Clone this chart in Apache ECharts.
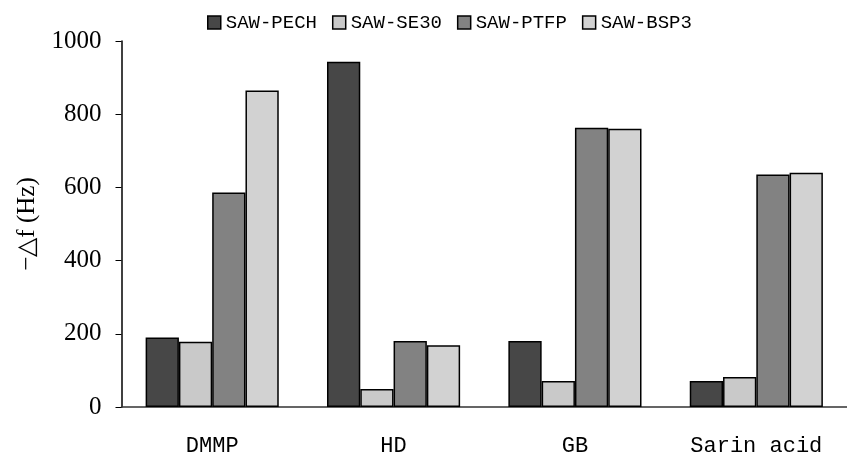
<!DOCTYPE html>
<html><head><meta charset="utf-8">
<script src="https://cdn.jsdelivr.net/npm/echarts@6/dist/echarts.min.js"></script>
<style>html,body{margin:0;padding:0;background:#fff}#c{width:847px;height:457px}</style>
</head><body><div id="c"></div>
<script>
const categories = ['DMMP', 'HD', 'GB', 'Sarin acid'];
const seriesNames = ['SAW-PECH', 'SAW-SE30', 'SAW-PTFP', 'SAW-BSP3'];
const pech = [190, 943, 180, 71];
const se30 = [178, 49, 71, 82];
const ptfp = [586, 180, 763, 635];
const bsp3 = [865, 169, 760, 640];
const yTicks = [0, 200, 400, 600, 800, 1000];

const colors = ['#474747', '#c9c9c9', '#828282', '#d2d2d2'];
const values = [pech, se30, ptfp, bsp3];
const chart = echarts.init(document.getElementById('c'));
chart.setOption({
  animation: false,
  backgroundColor: '#fff',
  grid: {left: 121.5, right: -10.5, top: 41, bottom: 49},
  legend: {
    top: 8, left: 202, icon: 'rect',
    itemWidth: 13, itemHeight: 13, itemGap: 15,
    itemStyle: {borderColor: '#000', borderWidth: 1.5},
    textStyle: {fontFamily: 'Liberation Mono', fontSize: 19, color: '#000'},
    data: seriesNames
  },
  xAxis: {
    type: 'category', data: categories,
    axisLine: {lineStyle: {color: '#333', width: 1.5}},
    axisTick: {show: false},
    axisLabel: {fontFamily: 'Liberation Mono', fontSize: 22, color: '#000', margin: 28}
  },
  yAxis: {
    type: 'value', min: 0, max: 1000, interval: 200,
    name: '−△f (Hz)', nameLocation: 'middle', nameGap: 82, nameRotate: 90,
    nameTextStyle: {fontFamily: 'Liberation Serif', fontSize: 25, color: '#000'},
    axisLine: {show: true, lineStyle: {color: '#000', width: 1.5}},
    axisTick: {show: true, length: 6, lineStyle: {color: '#000'}},
    splitLine: {show: false},
    axisLabel: {fontFamily: 'Liberation Serif', fontSize: 25, color: '#000', margin: 20,
      formatter: v => yTicks.includes(v) ? String(v) : ''}
  },
  series: seriesNames.map((n, i) => ({
    name: n, type: 'bar', data: values[i],
    barGap: '0%', barCategoryGap: '26.6%',
    itemStyle: {color: colors[i], borderColor: '#000', borderWidth: 1.5}
  }))
});
</script></body></html>
